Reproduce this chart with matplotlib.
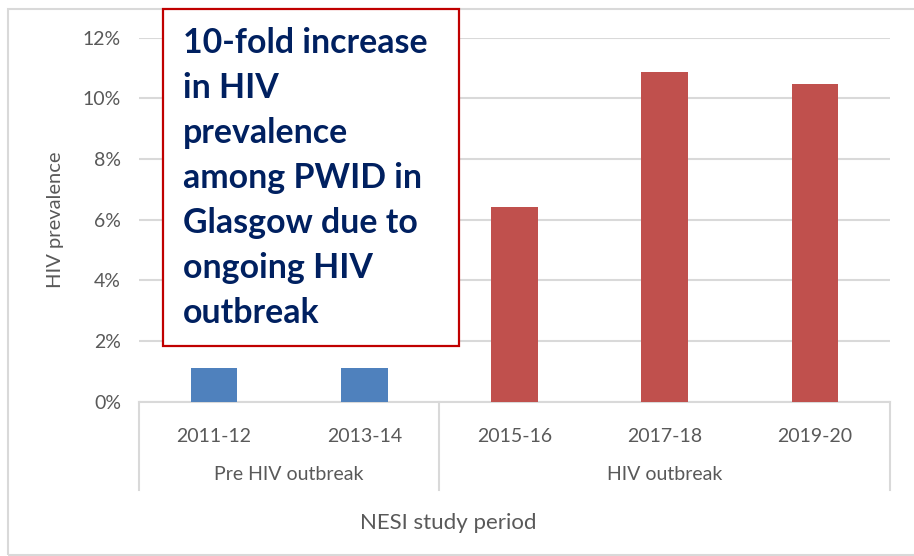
import matplotlib.pyplot as plt
import matplotlib.patches as patches
import matplotlib.transforms as mtransforms
from matplotlib.ticker import PercentFormatter

# donnees
periodes = ['2011-12', '2013-14', '2015-16', '2017-18', '2019-20']
prevalence = [1.12, 1.12, 6.41, 10.88, 10.47]   # en %
groupes = ['Pre HIV outbreak', 'HIV outbreak']
taille_groupes = [2, 3]
lignes_texte = ['10-fold increase', 'in HIV', 'prevalence', 'among PWID in',
                'Glasgow due to', 'ongoing HIV', 'outbreak']

bleu, rouge = '#4F81BD', '#C0504D'
gris_txt, gris_ligne = '#595959', '#D9D9D9'
police = ['Lato', 'DejaVu Sans']
W, H = 914, 556

fig = plt.figure(figsize=(W/100, H/100), dpi=100)
ax = fig.add_axes([139/W, 1-401.7/H, 751/W, 364/H])

couleurs = [bleu]*taille_groupes[0] + [rouge]*taille_groupes[1]
x = list(range(len(periodes)))
ax.bar(x, prevalence, width=0.31, color=couleurs, zorder=3)

ax.set_xlim(-0.5, len(periodes)-0.5)
ax.set_ylim(0, 12)
ax.set_yticks(range(0, 13, 2))
ax.yaxis.set_major_formatter(PercentFormatter(decimals=0))
ax.grid(axis='y', color=gris_ligne, lw=1.5, zorder=0)
for s in ['left', 'right', 'top']:
    ax.spines[s].set_visible(False)
ax.spines['bottom'].set_color(gris_ligne)
ax.spines['bottom'].set_linewidth(1.5)
ax.tick_params(axis='both', length=0, colors=gris_txt, labelsize=14)
ax.tick_params(axis='y', pad=13)
ax.tick_params(axis='x', pad=19)
ax.set_xticks(x)
ax.set_xticklabels(periodes, family=police)
for lab in ax.get_yticklabels():
    lab.set_family(police)

# separateurs des groupes et libelles des groupes
trans = mtransforms.blended_transform_factory(ax.transData, ax.transAxes)
bas = -(490-401.7)/364
debut = -0.5
for g, n in zip(groupes, taille_groupes):
    ax.plot([debut, debut], [0, bas], color=gris_ligne, lw=1.5, transform=trans, clip_on=False)
    ax.text(debut + n/2, -(475-401.7)/364, g, transform=trans, ha='center', va='center',
            color=gris_txt, fontsize=14, family=police)
    debut += n
ax.plot([debut, debut], [0, bas], color=gris_ligne, lw=1.5, transform=trans, clip_on=False)

ax.set_ylabel('HIV prevalence', color=gris_txt, fontsize=14.5, family=police)
ax.yaxis.set_label_coords(-(139-64)/751, 0.5)
fig.text(448/W, 1-522.7/H, 'NESI study period', ha='center', va='center',
         color=gris_txt, fontsize=16, family=police)

# cadre exterieur
fig.patches.append(patches.Rectangle((8/W, 1-555/H), (W+5-8)/W, (555-9)/H,
                                     transform=fig.transFigure, fill=False,
                                     edgecolor=gris_ligne, lw=1.5))

# encadre de texte
fig.patches.append(patches.Rectangle((163/W, 1-345.7/H), (459-163)/W, (345.7-9)/H,
                                     transform=fig.transFigure, facecolor='white',
                                     edgecolor='#C00000', lw=1.6, zorder=5))
for i, l in enumerate(lignes_texte):
    fig.text(183/W, 1-(53.3+45*i)/H, l, ha='left', va='baseline', color='#002060',
             fontsize=24.4, fontweight='bold', family=police, zorder=6)

fig.savefig('out.png', dpi=100)
